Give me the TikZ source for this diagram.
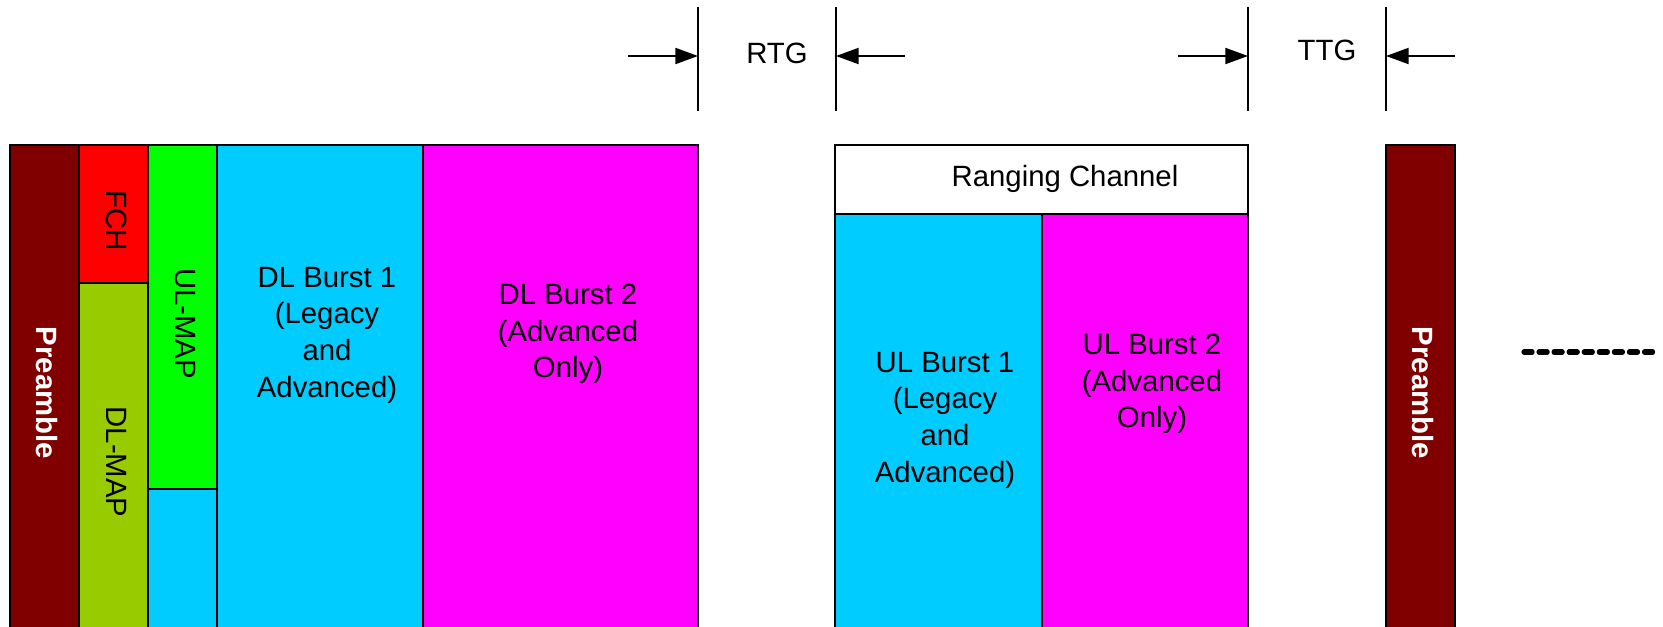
\documentclass[tikz,border=0pt]{standalone}
\usepackage{fontspec}
\setmainfont{Liberation Sans}
\usepackage{xcolor}
\usepackage{tikz}
\usetikzlibrary{arrows.meta,
                positioning}

\definecolor{preamblered}{HTML}{800000}
\definecolor{fchred}{HTML}{FF0000}
\definecolor{dlmapgreen}{HTML}{99CC00}
\definecolor{ulmapgreen}{HTML}{00FF00}
\definecolor{legacycyan}{HTML}{00CCFF}
\definecolor{advmagenta}{HTML}{FF00FF}

\tikzset{
    blk/.style={draw, line width=1.1pt, outer sep=0pt, inner sep=0pt, anchor=north west},
    wh/.style 2 args={minimum width=#1*0.75pt, minimum height=#2*0.75pt},
    txt/.style={inner sep=0pt, align=center, font=\fontsize{22}{27.5}\selectfont},
    vtxt/.style={txt, rotate=-90},
    gapline/.style={line width=1.5pt},
    gaparrow/.style={line width=1.5pt, -{Triangle[length=17pt,width=12pt]}},
    moredots/.style={line width=4pt, line cap=round, dash pattern=on 6pt off 5.3pt}
}

% two vertical marks with arrows pointing at them, and the gap's name in between
\newcommand{\gapmarks}[1]{%
    \foreach \lx/\rx/\gapname/\ty in {#1}{% one entry per gap
      \coordinate (\gapname lt) at (\lx,7);
      \coordinate (\gapname lb) at (\lx,111);
      \coordinate (\gapname rt) at (\rx,7);
      \coordinate (\gapname rb) at (\rx,111);
      \coordinate (\gapname la) at (\lx-70,56);
      \coordinate (\gapname ra) at (\rx+69,56);
      \draw[gapline] (\gapname lt) -- (\gapname lb);
      \draw[gapline] (\gapname rt) -- (\gapname rb);
      \draw[gaparrow] (\gapname la) -- (\gapname la -| \gapname lt);
      \draw[gaparrow] (\gapname ra) -- (\gapname ra -| \gapname rt);
      \node[txt] (\gapname) at ({(\lx+\rx)/2+10},\ty) {\gapname};
    }
}

\begin{document}
\begin{tikzpicture}[x=0.75pt, y=-0.75pt]
    \useasboundingbox (0,0) rectangle (1663,626);
    \clip (0,0) rectangle (1663,626);

    \gapmarks{698/836/RTG/53, 1248/1386/TTG/50}

    % downlink subframe
    \node[blk, wh={69}{496}, fill=preamblered] (pre1) at (10,145) {};
    \node[blk, wh={69}{138}, fill=fchred] (fch) at (pre1.north east) {};
    \node[blk, wh={69}{358}, fill=dlmapgreen] (dlmap) at (fch.south west) {};
    \node[blk, wh={69}{344}, fill=ulmapgreen] (ulmap) at (fch.north east) {};
    \node[blk, wh={69}{152}, fill=legacycyan] (ulmapfill) at (ulmap.south west) {};
    \node[blk, wh={206}{496}, fill=legacycyan] (dlb1) at (ulmap.north east) {};
    \node[blk, wh={275}{496}, fill=advmagenta] (dlb2) at (dlb1.north east) {};

    \node[vtxt, text=white, font=\fontsize{22}{27.5}\selectfont\bfseries] (pre1txt) at ([xshift=2pt]pre1.center) {Preamble};
    \node[vtxt] (fchtxt) at ([xshift=2pt,yshift=-5pt]fch.center) {FCH};
    \node[vtxt] (dlmaptxt) at ([xshift=2pt]dlmap.center) {DL-MAP};
    \node[vtxt] (ulmaptxt) at ([xshift=2pt,yshift=-5pt]ulmap.center) {UL-MAP};
    \node[txt] (dlb1txt) at (327,335) {DL Burst 1\\(Legacy\\and\\Advanced)};
    \node[txt] (dlb2txt) at (568,334) {DL Burst 2\\(Advanced\\Only)};

    % uplink subframe
    \node[blk, wh={413}{69}, fill=white] (rng) at (835,145) {};
    \node[blk, wh={207}{427}, fill=legacycyan] (ulb1) at (rng.south west) {};
    \node[blk, wh={206}{427}, fill=advmagenta] (ulb2) at (ulb1.north east) {};

    \node[txt] (rngtxt) at (1065,179) {Ranging Channel};
    \node[txt] (ulb1txt) at (945,420) {UL Burst 1\\(Legacy\\and\\Advanced)};
    \node[txt] (ulb2txt) at (1152,384) {UL Burst 2\\(Advanced\\Only)};

    % next frame
    \node[blk, wh={69}{496}, fill=preamblered] (pre2) at (1386,145) {};
    \node[vtxt, text=white, font=\fontsize{22}{27.5}\selectfont\bfseries] (pre2txt) at ([xshift=2pt]pre2.center) {Preamble};

    \coordinate (more) at (1524,352);
    \coordinate (moreend) at (1654,352);
    \draw[moredots] (more) -- (moreend);
\end{tikzpicture}
\end{document}
